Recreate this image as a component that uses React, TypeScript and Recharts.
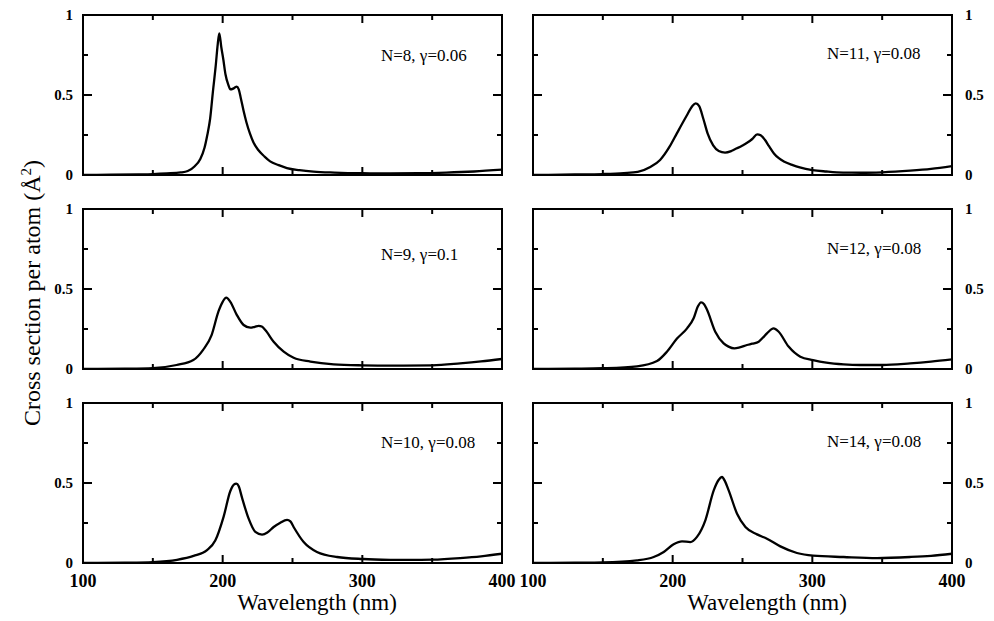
import React from 'react';
import { LineChart, Line, XAxis, YAxis, ReferenceArea } from 'recharts';

const FONT = '"Liberation Serif", "Times New Roman", serif';

// wavelength (nm) and cross section per atom for each cluster size
const wl8 = [100, 120, 140, 150, 160, 170, 175, 180, 184, 187, 189, 191, 193, 195, 196.5, 197.6, 199, 200.5, 202, 204, 205.5, 207.5, 209, 210, 211.5, 213, 215, 217, 219.5, 222, 225.5, 230, 234, 240, 246, 255, 265, 280, 300, 320, 340, 360, 380, 400];
const val8 = [0, 0.002, 0.004, 0.006, 0.01, 0.016, 0.025, 0.055, 0.1, 0.17, 0.25, 0.35, 0.52, 0.68, 0.82, 0.885, 0.8, 0.72, 0.63, 0.565, 0.535, 0.54, 0.548, 0.552, 0.535, 0.48, 0.4, 0.33, 0.26, 0.205, 0.156, 0.115, 0.085, 0.062, 0.043, 0.03, 0.021, 0.015, 0.011, 0.01, 0.011, 0.015, 0.022, 0.033];

const wl11 = [100, 130, 150, 165, 175, 184, 191, 198, 203, 210, 214, 216.5, 219, 222, 225, 229, 233, 237.5, 242, 246, 250, 253, 257, 260.5, 263, 266, 269, 272.5, 276, 280, 286, 291, 300, 310, 322, 335, 350, 370, 385, 400];
const val11 = [0, 0.003, 0.006, 0.012, 0.02, 0.05, 0.094, 0.18, 0.26, 0.37, 0.43, 0.448, 0.43, 0.35, 0.26, 0.185, 0.15, 0.14, 0.15, 0.167, 0.185, 0.2, 0.225, 0.254, 0.248, 0.22, 0.18, 0.135, 0.105, 0.083, 0.062, 0.048, 0.031, 0.022, 0.015, 0.014, 0.017, 0.027, 0.038, 0.055];

const wl9 = [100, 130, 150, 167, 179, 186, 192, 197, 200, 202.6, 205.5, 210, 215, 219.8, 223, 225.8, 228, 230.5, 236.5, 243.7, 250.8, 262.8, 279.5, 300, 322, 350, 370, 385, 400];
const val9 = [0, 0.002, 0.006, 0.025, 0.056, 0.12, 0.21, 0.36, 0.42, 0.446, 0.42, 0.34, 0.275, 0.258, 0.264, 0.27, 0.265, 0.244, 0.17, 0.108, 0.07, 0.046, 0.029, 0.023, 0.021, 0.023, 0.035, 0.047, 0.0625];

const wl12 = [100, 130, 150, 174.5, 188.8, 195.9, 203.1, 210.3, 215, 218, 220.3, 222.5, 224.6, 230.5, 236.5, 240, 244.2, 248, 253.2, 257, 261.6, 264.5, 267.5, 272.3, 275.9, 283, 291.4, 300.5, 310, 322.4, 334.4, 350, 370, 385, 400];
const val12 = [0, 0.002, 0.005, 0.017, 0.05, 0.108, 0.19, 0.254, 0.317, 0.39, 0.417, 0.405, 0.37, 0.233, 0.16, 0.14, 0.129, 0.135, 0.15, 0.158, 0.17, 0.195, 0.223, 0.254, 0.233, 0.14, 0.077, 0.056, 0.04, 0.029, 0.025, 0.025, 0.035, 0.046, 0.06];

const wl10 = [100, 130, 150, 167.3, 179.2, 188.8, 194.7, 200.7, 205.5, 208, 209.8, 211.5, 213.8, 218.6, 223.4, 228.2, 232, 236.5, 241, 246.1, 248.5, 250.8, 258, 267.5, 281.9, 300.5, 320, 334.4, 350, 370, 385, 400];
const val10 = [0, 0.002, 0.006, 0.02, 0.044, 0.08, 0.14, 0.29, 0.45, 0.49, 0.496, 0.48, 0.41, 0.277, 0.194, 0.177, 0.19, 0.225, 0.25, 0.27, 0.26, 0.225, 0.131, 0.069, 0.0375, 0.025, 0.02, 0.019, 0.021, 0.031, 0.042, 0.058];

const wl14 = [100, 130, 150, 174.5, 186.4, 193.6, 200.7, 206.7, 212.6, 217.4, 223.4, 229.4, 233, 235.3, 237.5, 240.1, 246.1, 252.1, 260.4, 267.5, 277.1, 289, 300.5, 322.4, 346.3, 370, 385, 400];
const val14 = [0, 0.002, 0.004, 0.017, 0.0375, 0.069, 0.117, 0.135, 0.131, 0.163, 0.267, 0.454, 0.52, 0.5375, 0.51, 0.454, 0.308, 0.225, 0.179, 0.152, 0.104, 0.0625, 0.046, 0.0375, 0.031, 0.0375, 0.045, 0.058];

const xTicks = [100, 150, 200, 250, 300, 350, 400];
const xLabeled = [100, 200, 300, 400];
const yTicks = [0, 0.25, 0.5, 0.75, 1];
const yLabels: Record<string, string> = { '0': '0', '0.5': '0.5', '1': '1' };

const PLOT_W = 419;
const PLOT_H = 160;
const PAD = 60;
const TOP_PAD = 10;
const X_AXIS_H = 30;

type PanelProps = {
  wl: number[];
  val: number[];
  label: string;
  left: number;
  top: number;
  side: 'left' | 'right';
  showX: boolean;
  labelDy: number;
};

function Panel({ wl, val, label, left, top, side, showX, labelDy }: PanelProps) {
  const data = wl.map((x, i) => ({ x, v: val[i] }));

  const xTick = (p: any) => {
    const { x, y, payload } = p;
    const v = payload.value;
    const len = v % 100 === 0 ? 8 : 5;
    const edge = v === 100 || v === 400;
    return (
      <g>
        {!edge && <line x1={x} y1={y} x2={x} y2={y - len} stroke="#000" strokeWidth={2} />}
        {!edge && <line x1={x} y1={y - PLOT_H} x2={x} y2={y - PLOT_H + len} stroke="#000" strokeWidth={2} />}
        {showX && xLabeled.includes(v) && (
          <text
            x={x}
            y={y + 18}
            dy="0.35em"
            textAnchor="middle"
            style={{ fontFamily: FONT, fontWeight: 'bold', fontSize: 18 }}
            fill="#000"
          >
            {v}
          </text>
        )}
      </g>
    );
  };

  const yTick = (p: any) => {
    const { x, y, payload } = p;
    const v = payload.value;
    const len = v === 0.5 ? 9 : 5;
    const edge = v === 0 || v === 1;
    const text = yLabels[String(v)];
    return (
      <g>
        {!edge && <line x1={x} y1={y} x2={x + len} y2={y} stroke="#000" strokeWidth={2} />}
        {!edge && <line x1={x + PLOT_W - len} y1={y} x2={x + PLOT_W} y2={y} stroke="#000" strokeWidth={2} />}
        {text && (
          <text
            x={side === 'left' ? x - 10 : x + PLOT_W + 13}
            y={y}
            dy="0.35em"
            textAnchor={side === 'left' ? 'end' : 'start'}
            style={{ fontFamily: FONT, fontWeight: 'bold', fontSize: 15 }}
            fill="#000"
          >
            {text}
          </text>
        )}
      </g>
    );
  };

  return (
    <>
      <div style={{ position: 'absolute', left: left - PAD, top: top - TOP_PAD }}>
        <LineChart
          width={PAD + PLOT_W + PAD}
          height={TOP_PAD + PLOT_H + X_AXIS_H}
          data={data}
          margin={{ top: TOP_PAD, right: PAD, bottom: 0, left: 0 }}
        >
          <XAxis
            type="number"
            dataKey="x"
            domain={[100, 400]}
            ticks={xTicks}
            interval={0}
            height={X_AXIS_H}
            tickSize={0}
            tickMargin={0}
            axisLine={false}
            tick={xTick}
            allowDataOverflow
          />
          <YAxis
            type="number"
            domain={[0, 1]}
            ticks={yTicks}
            interval={0}
            width={PAD}
            tickSize={0}
            tickMargin={0}
            axisLine={false}
            tick={yTick}
            allowDataOverflow
          />
          <ReferenceArea x1={100} x2={400} y1={0} y2={1} fill="none" fillOpacity={0} stroke="#000" strokeWidth={2} />
          <Line type="monotone" dataKey="v" stroke="#000" strokeWidth={2.3} dot={false} isAnimationActive={false} />
        </LineChart>
      </div>
      <div
        style={{
          position: 'absolute',
          left: side === 'left' ? 381 : 827,
          top: top + labelDy,
          transform: 'translateY(-50%)',
          fontFamily: FONT,
          fontSize: 17,
          whiteSpace: 'nowrap',
          color: '#000',
        }}
      >
        {label}
      </div>
    </>
  );
}

const titleStyle: React.CSSProperties = {
  position: 'absolute',
  top: 602,
  transform: 'translate(-50%, -50%)',
  fontFamily: FONT,
  fontSize: 23,
  lineHeight: '23px',
  whiteSpace: 'nowrap',
};

export default function App() {
  const leftX = 83;
  const rightX = 533;
  const rows = [15, 209, 403];
  return (
    <div style={{ position: 'absolute', left: 0, top: 0, width: 994, height: 621, background: '#fff' }}>
      <Panel wl={wl8} val={val8} label="N=8, γ=0.06" left={leftX} top={rows[0]} side="left" showX={false} labelDy={41} />
      <Panel wl={wl11} val={val11} label="N=11, γ=0.08" left={rightX} top={rows[0]} side="right" showX={false} labelDy={39} />
      <Panel wl={wl9} val={val9} label="N=9, γ=0.1" left={leftX} top={rows[1]} side="left" showX={false} labelDy={46} />
      <Panel wl={wl12} val={val12} label="N=12, γ=0.08" left={rightX} top={rows[1]} side="right" showX={false} labelDy={40} />
      <Panel wl={wl10} val={val10} label="N=10, γ=0.08" left={leftX} top={rows[2]} side="left" showX={true} labelDy={40} />
      <Panel wl={wl14} val={val14} label="N=14, γ=0.08" left={rightX} top={rows[2]} side="right" showX={true} labelDy={39} />
      <div style={{ ...titleStyle, left: 317 }}>Wavelength (nm)</div>
      <div style={{ ...titleStyle, left: 767 }}>Wavelength (nm)</div>
      <div
        style={{
          position: 'absolute',
          left: 32,
          top: 293,
          transform: 'translate(-50%, -50%) rotate(-90deg)',
          fontFamily: FONT,
          fontSize: 24,
          whiteSpace: 'nowrap',
        }}
      >
        Cross section per atom (Å<sup style={{ fontSize: 15 }}>2</sup>)
      </div>
    </div>
  );
}
